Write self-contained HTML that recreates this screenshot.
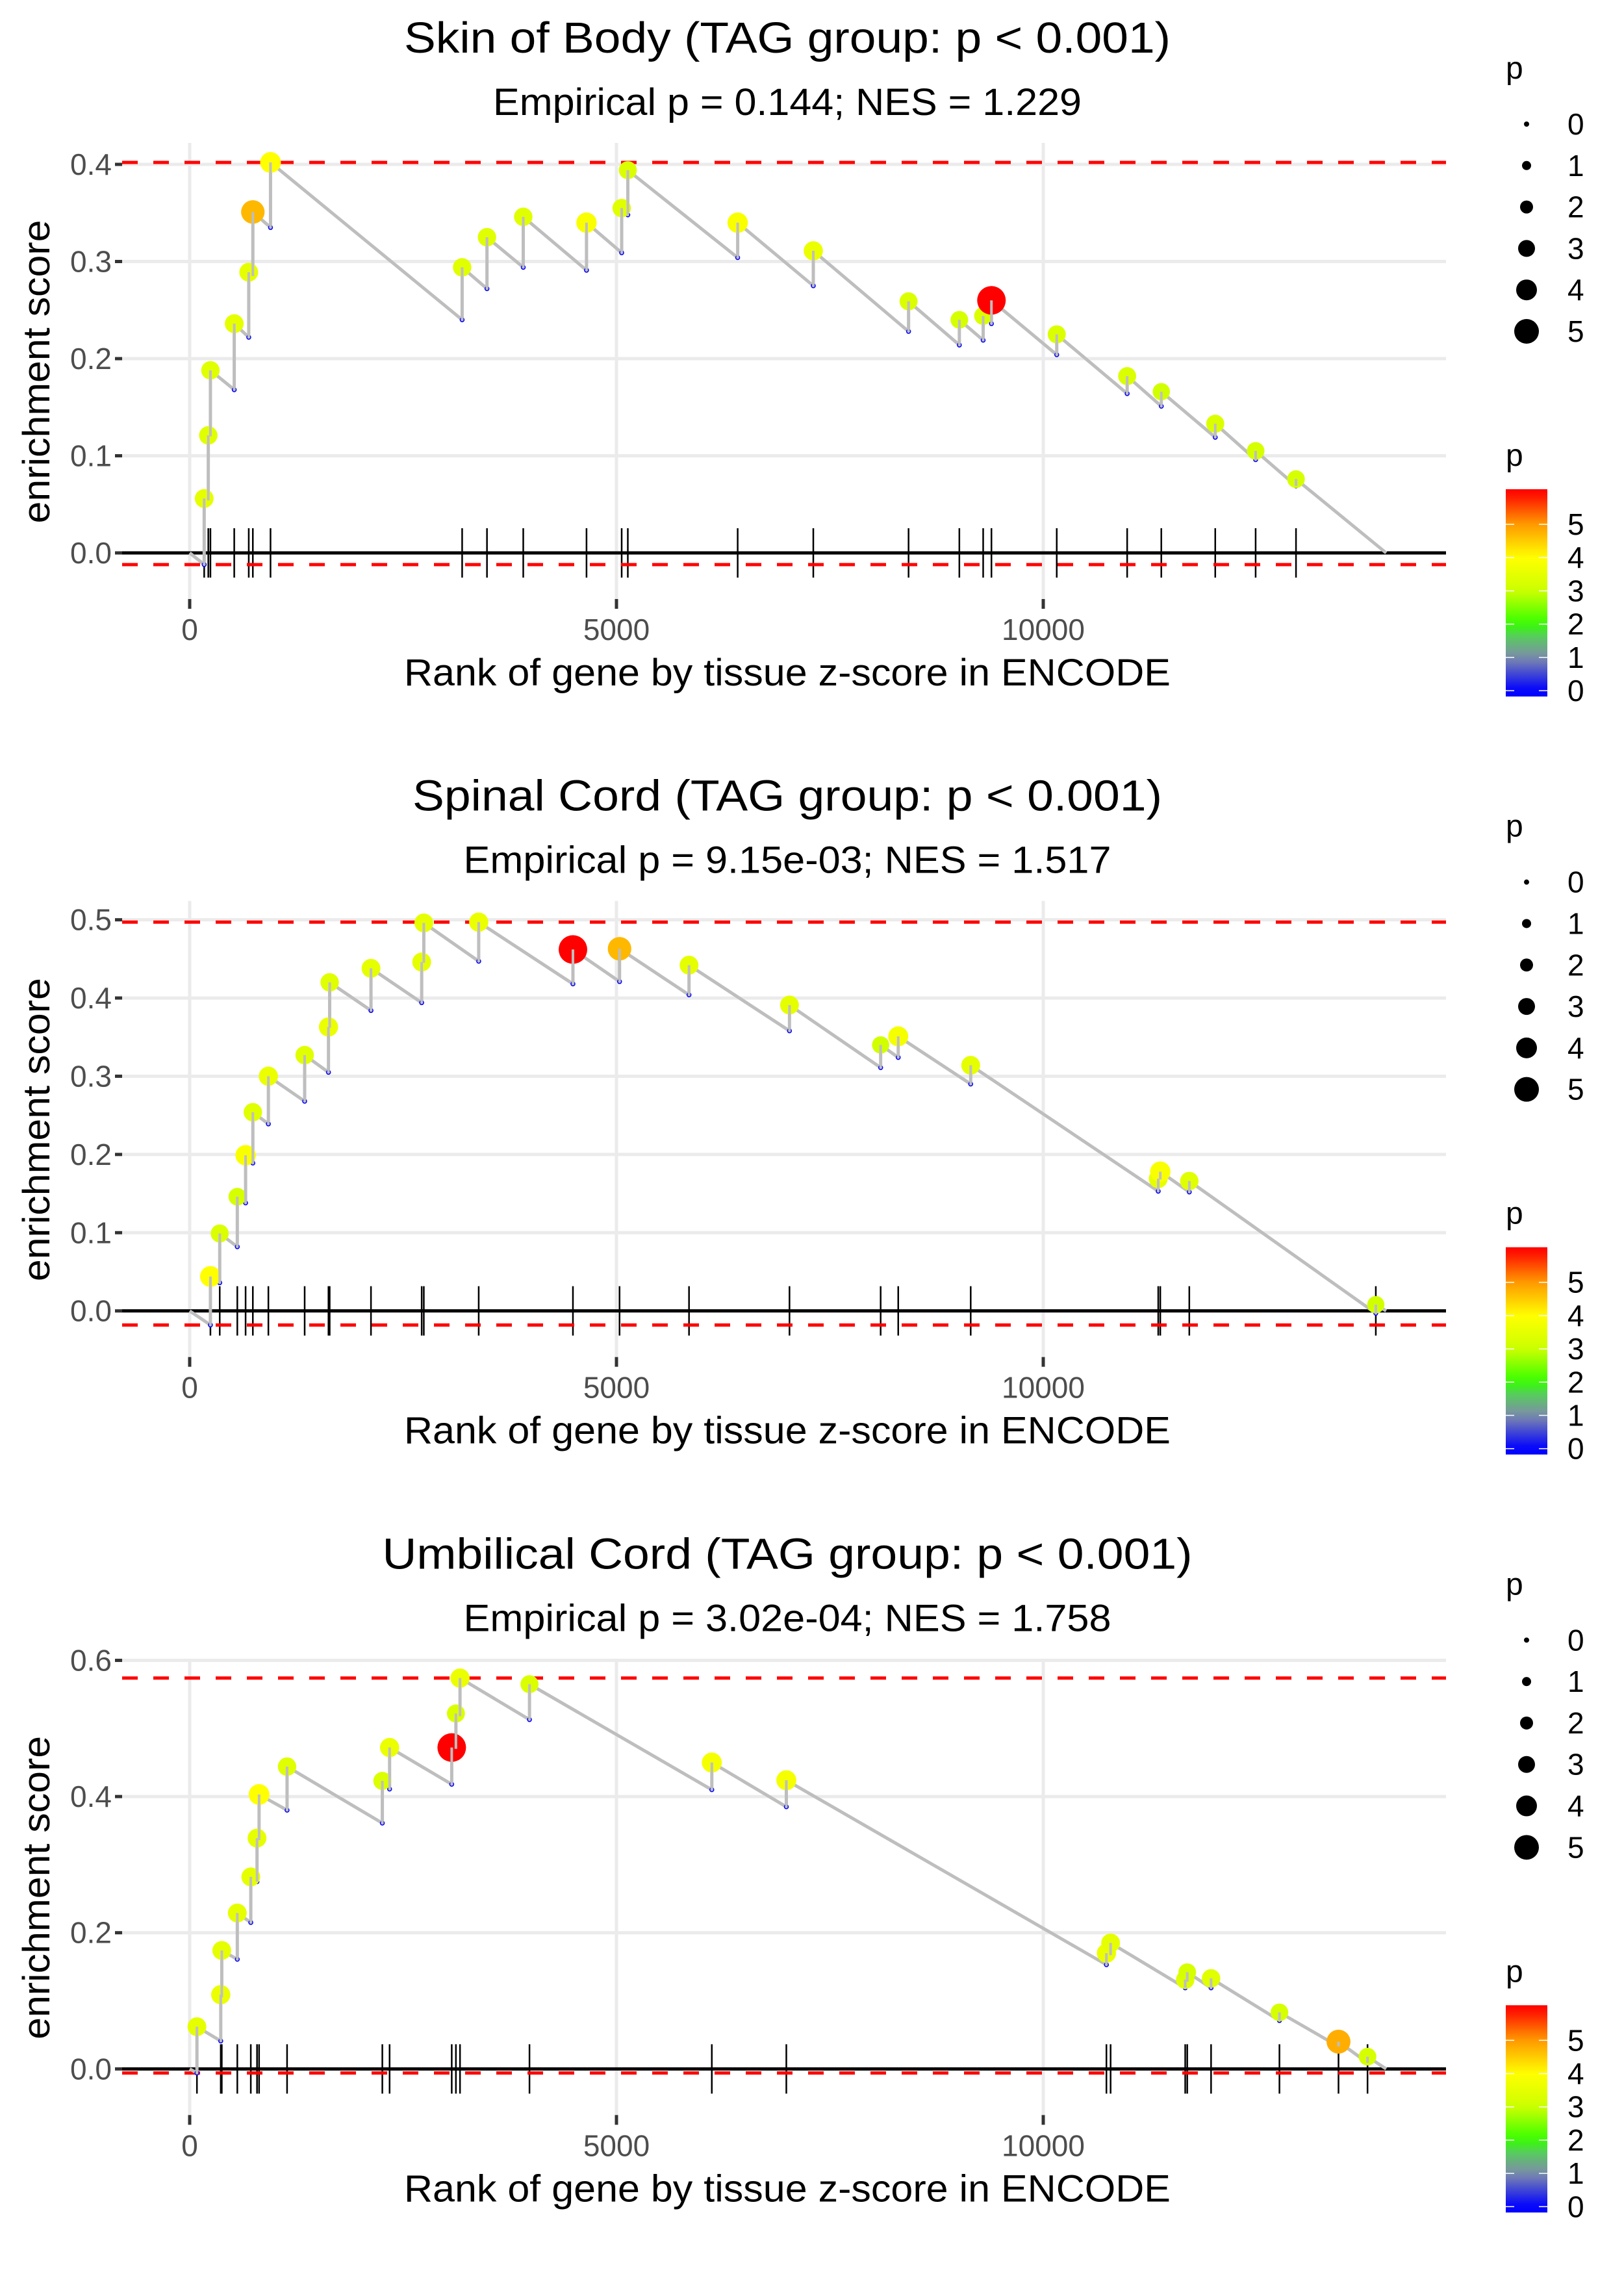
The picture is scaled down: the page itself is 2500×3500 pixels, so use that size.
<!DOCTYPE html>
<html><head><meta charset="utf-8"><style>
html,body{margin:0;padding:0;background:#fff;}
svg{display:block;font-family:"Liberation Sans",sans-serif;}
</style></head><body>
<svg id="chart" xmlns="http://www.w3.org/2000/svg" width="2500" height="3500" viewBox="0 0 2500 3500"></svg>
<script>
// ---------- DATA ----------
const titles = ["Skin of Body (TAG group: p < 0.001)", "Spinal Cord (TAG group: p < 0.001)", "Umbilical Cord (TAG group: p < 0.001)"];
const subtitles = ["Empirical p = 0.144; NES = 1.229", "Empirical p = 9.15e-03; NES = 1.517", "Empirical p = 3.02e-04; NES = 1.758"];
const xTicks = [0, 5000, 10000];
const xTickLabels = ["0", "5000", "10000"];
const yTicks1 = [0.0, 0.1, 0.2, 0.3, 0.4];
const yTickLabels1 = ["0.0", "0.1", "0.2", "0.3", "0.4"];
const yTicks2 = [0.0, 0.1, 0.2, 0.3, 0.4, 0.5];
const yTickLabels2 = ["0.0", "0.1", "0.2", "0.3", "0.4", "0.5"];
const yTicks3 = [0.0, 0.2, 0.4, 0.6];
const yTickLabels3 = ["0.0", "0.2", "0.4", "0.6"];
const nGenes = 14017;

const ranks1 = [170,218,243,522,692,740,947,3192,3483,3908,4649,5061,5133,6420,7306,8422,9017,9296,9393,10158,10983,11383,12015,12488,12961];
const tops1 = [0.056,0.121,0.188,0.236,0.289,0.351,0.402,0.294,0.325,0.346,0.340,0.355,0.394,0.340,0.311,0.259,0.240,0.244,0.260,0.225,0.182,0.166,0.133,0.105,0.076];
const bottoms1 = [-0.012,0.054,0.120,0.168,0.222,0.285,0.335,0.240,0.272,0.294,0.291,0.309,0.348,0.304,0.275,0.228,0.214,0.219,0.236,0.204,0.164,0.151,0.119,0.096,0.069];
const pvals1 = [3.5,3.4,3.4,3.5,3.5,4.7,4.0,3.4,3.4,3.4,3.9,3.4,3.3,3.9,3.6,3.3,3.2,3.3,6.0,3.3,3.3,3.1,3.3,3.2,3.2];

const ranks2 = [243,352,558,655,740,922,1347,1626,1640,2124,2718,2743,3386,4490,5036,5850,7027,8095,8301,9150,11347,11371,11711,13896];
const tops2 = [0.044,0.099,0.146,0.199,0.254,0.300,0.327,0.363,0.420,0.438,0.446,0.496,0.497,0.462,0.463,0.442,0.391,0.340,0.351,0.314,0.169,0.178,0.166,0.008];
const bottoms2 = [-0.018,0.036,0.082,0.138,0.189,0.239,0.268,0.305,0.362,0.384,0.394,0.445,0.447,0.418,0.421,0.404,0.358,0.311,0.324,0.290,0.153,0.168,0.152,-0.003];
const pvals2 = [4.0,3.3,3.2,3.9,3.4,3.6,3.4,3.6,3.4,3.5,3.5,3.5,3.6,6.0,4.7,3.5,3.5,3.1,3.8,3.5,3.5,3.9,3.4,3.1];

const ranks3 = [85,364,376,558,716,789,813,1141,2257,2342,3070,3119,3167,3981,6117,6990,10740,10789,11663,11687,11966,12767,13459,13799];
const tops3 = [0.062,0.109,0.174,0.229,0.282,0.339,0.403,0.444,0.423,0.472,0.472,0.522,0.574,0.565,0.450,0.424,0.170,0.185,0.131,0.142,0.133,0.083,0.040,0.018];
const bottoms3 = [-0.006,0.041,0.105,0.161,0.215,0.275,0.336,0.380,0.361,0.411,0.418,0.470,0.518,0.513,0.410,0.385,0.153,0.167,0.119,0.128,0.119,0.071,0.033,0.009];
const pvals3 = [3.5,3.6,3.5,3.5,3.5,3.5,4.0,3.4,3.3,3.6,6.0,3.3,3.6,3.3,3.8,3.8,3.6,3.5,3.4,3.2,3.4,3.2,4.8,3.2];

const sizeLegendValues = [0,1,2,3,4,5];
const colorLegendValues = [0,1,2,3,4,5];

// ---------- RENDER ----------
const NS = "http://www.w3.org/2000/svg";
const svg = document.getElementById("chart");
function mk(tag, attrs, parent) {
  const e = document.createElementNS(NS, tag);
  for (const k in attrs) e.setAttribute(k, attrs[k]);
  (parent || svg).appendChild(e);
  return e;
}
function lerp(a, b, t) { return a + (b - a) * t; }
const colStops = [[0,[0,0,255]],[1,[127,140,170]],[1.6,[90,200,100]],[2,[51,255,0]],[3,[204,255,0]],[4,[255,255,0]],[5,[255,153,0]],[6,[255,0,0]]];
function pColor(p) {
  p = Math.max(0, Math.min(6, p));
  for (let i = 0; i < colStops.length - 1; i++) {
    const a = colStops[i], b = colStops[i + 1];
    if (p <= b[0]) {
      const t = (p - a[0]) / (b[0] - a[0]);
      return "rgb(" + a[1].map((v, j) => Math.round(lerp(v, b[1][j], t))).join(",") + ")";
    }
  }
  return "rgb(255,0,0)";
}
function pRadius(p) { return (8 + 6 * p) / 2; }

const PL = 188, PR = 2226, PT = 220, PB = 922, Y0 = 851;
const panels = [
  { ranks: ranks1, tops: tops1, bottoms: bottoms1, pvals: pvals1, yTicks: yTicks1, yLabels: yTickLabels1, pxPerUnit: 1495, tw: 1180, sw: 906 },
  { ranks: ranks2, tops: tops2, bottoms: bottoms2, pvals: pvals2, yTicks: yTicks2, yLabels: yTickLabels2, pxPerUnit: 1204, tw: 1154, sw: 997 },
  { ranks: ranks3, tops: tops3, bottoms: bottoms3, pvals: pvals3, yTicks: yTicks3, yLabels: yTickLabels3, pxPerUnit: 1048, tw: 1247, sw: 997 }
];

panels.forEach((P, idx) => {
  const off = idx * 1166.67;
  const g = mk("g", { transform: "translate(0," + off + ")" });
  
  
  const xs = r => 292 + r * 0.1314;
  const ys = v => Y0 - v * P.pxPerUnit;

  const t = mk("text", { x: 1212, y: 81, "font-size": 67, "text-anchor": "middle", fill: "#000", textLength: P.tw, lengthAdjust: "spacingAndGlyphs" }, g);
  t.textContent = titles[idx];
  
  
  const st = mk("text", { x: 1212, y: 177, "font-size": 58, "text-anchor": "middle", fill: "#000", textLength: P.sw, lengthAdjust: "spacingAndGlyphs" }, g);
  st.textContent = subtitles[idx];
  
  

  // grid
  P.yTicks.forEach((v, i) => {
    const gl = mk("line", { x1: PL, x2: PR, y1: ys(v), y2: ys(v), stroke: "#ebebeb", "stroke-width": 5 }, g);
    
    
    const tk = mk("line", { x1: 177, x2: 188, y1: ys(v), y2: ys(v), stroke: "#333", "stroke-width": 5 }, g);
    
    
    const tl = mk("text", { x: 172, y: ys(v) + 16, "font-size": 46, "text-anchor": "end", fill: "#4d4d4d" }, g);
    tl.textContent = P.yLabels[i];
    
    
  });
  xTicks.forEach((r, i) => {
    const gl = mk("line", { x1: xs(r), x2: xs(r), y1: PT, y2: PB, stroke: "#ebebeb", "stroke-width": 5 }, g);
    
    
    const tk = mk("line", { x1: xs(r), x2: xs(r), y1: PB, y2: 937, stroke: "#333", "stroke-width": 5 }, g);
    
    
    const tl = mk("text", { x: xs(r), y: 985, "font-size": 46, "text-anchor": "middle", fill: "#4d4d4d" }, g);
    tl.textContent = xTickLabels[i];
    
    
  });

  // zero line
  const zl = mk("line", { x1: PL, x2: PR, y1: ys(0), y2: ys(0), stroke: "#000", "stroke-width": 5 }, g);
  
  

  // rug
  P.ranks.forEach(r => {
    const rl = mk("line", { x1: xs(r), x2: xs(r), y1: 813, y2: 889, stroke: "#000", "stroke-width": 2.5 }, g);
    
    
  });

  // dashed max/min
  const maxV = Math.max(...P.tops), minV = Math.min(...P.bottoms);
  [maxV, minV].forEach((v, i) => {
    const dl = mk("line", { x1: PL, x2: PR, y1: ys(v), y2: ys(v), stroke: "#ff0000", "stroke-width": 5, "stroke-dasharray": "24 24" }, g);
    
    
  });

  // running ES path
  let d = "M" + xs(0) + " " + ys(0);
  P.ranks.forEach((r, i) => {
    d += " L" + xs(r) + " " + ys(P.bottoms[i]) + " L" + xs(r) + " " + ys(P.tops[i]);
  });
  d += " L" + xs(nGenes) + " " + ys(0);
  const path = mk("path", { d: d, fill: "none", stroke: "#bebebe", "stroke-width": 5, "stroke-linejoin": "round" }, g);
  
  

  P.ranks.forEach((r, i) => {
    const c = mk("circle", { cx: xs(r), cy: ys(P.bottoms[i]), r: 3, fill: "none", stroke: "#0000ff", "stroke-width": 1.5 }, g);
    
    
  });
  P.ranks.forEach((r, i) => {
    const c = mk("circle", { cx: xs(r), cy: ys(P.tops[i]), r: pRadius(P.pvals[i]), fill: pColor(P.pvals[i]) }, g);
    
    
  });
  // redraw path segment over points lightly (vertical lines visible through)
  P.ranks.forEach((r, i) => {
    const vl = mk("line", { x1: xs(r), x2: xs(r), y1: ys(P.bottoms[i]), y2: ys(P.tops[i]), stroke: "#bebebe", "stroke-width": 4 }, g);
    
    
  });

  // axis titles
  const xt = mk("text", { x: 1212, y: 1055, "font-size": 58, "text-anchor": "middle", fill: "#000", textLength: 1180, lengthAdjust: "spacingAndGlyphs" }, g);
  xt.textContent = "Rank of gene by tissue z-score in ENCODE";
  
  
  const yt = mk("text", { x: 0, y: 0, "font-size": 58, "text-anchor": "middle", fill: "#000", transform: "translate(76,572) rotate(-90)", textLength: 467, lengthAdjust: "spacingAndGlyphs" }, g);
  yt.textContent = "enrichment score";
  
  

  // size legend
  const sl = mk("g", {}, g);
  
  
  const sp = mk("text", { x: 2318, y: 121, "font-size": 48, fill: "#000" }, sl);
  sp.textContent = "p";
  
  
  sizeLegendValues.forEach((v, i) => {
    const cy = 191 + i * 63.8;
    const c = mk("circle", { cx: 2350, cy: cy, r: pRadius(v), fill: "#000" }, sl);
    
    
    const lt = mk("text", { x: 2413, y: cy + 16, "font-size": 46, fill: "#000" }, sl);
    lt.textContent = String(v);
    
    
  });

  // color legend
  const cl = mk("g", {}, g);
  
  
  const cp = mk("text", { x: 2318, y: 717, "font-size": 48, fill: "#000" }, cl);
  cp.textContent = "p";
  
  
  const gid = "grad" + idx;
  const defs = mk("defs", {}, cl);
  const lg = mk("linearGradient", { id: gid, x1: 0, y1: 1, x2: 0, y2: 0 }, defs);
  const cbTop = 753, cbBot = 1072, y0c = 1063, unit = 51.2;
  const vTop = (y0c - cbTop) / unit, vBot = (y0c - cbBot) / unit;
  for (let k = 0; k <= 24; k++) {
    const v = vBot + (vTop - vBot) * k / 24;
    mk("stop", { offset: (k / 24), "stop-color": pColor(v) }, lg);
  }
  const bar = mk("rect", { x: 2318, y: cbTop, width: 64, height: cbBot - cbTop, fill: "url(#" + gid + ")" }, cl);
  
  
  colorLegendValues.forEach(v => {
    const yy = y0c - v * unit;
    mk("line", { x1: 2318, x2: 2331, y1: yy, y2: yy, stroke: "#fff", "stroke-width": 1.5 }, cl);
    mk("line", { x1: 2369, x2: 2382, y1: yy, y2: yy, stroke: "#fff", "stroke-width": 1.5 }, cl);
    const lt = mk("text", { x: 2413, y: yy + 16, "font-size": 46, fill: "#000" }, cl);
    lt.textContent = String(v);
    
    
  });
});
</script>
</body></html>
